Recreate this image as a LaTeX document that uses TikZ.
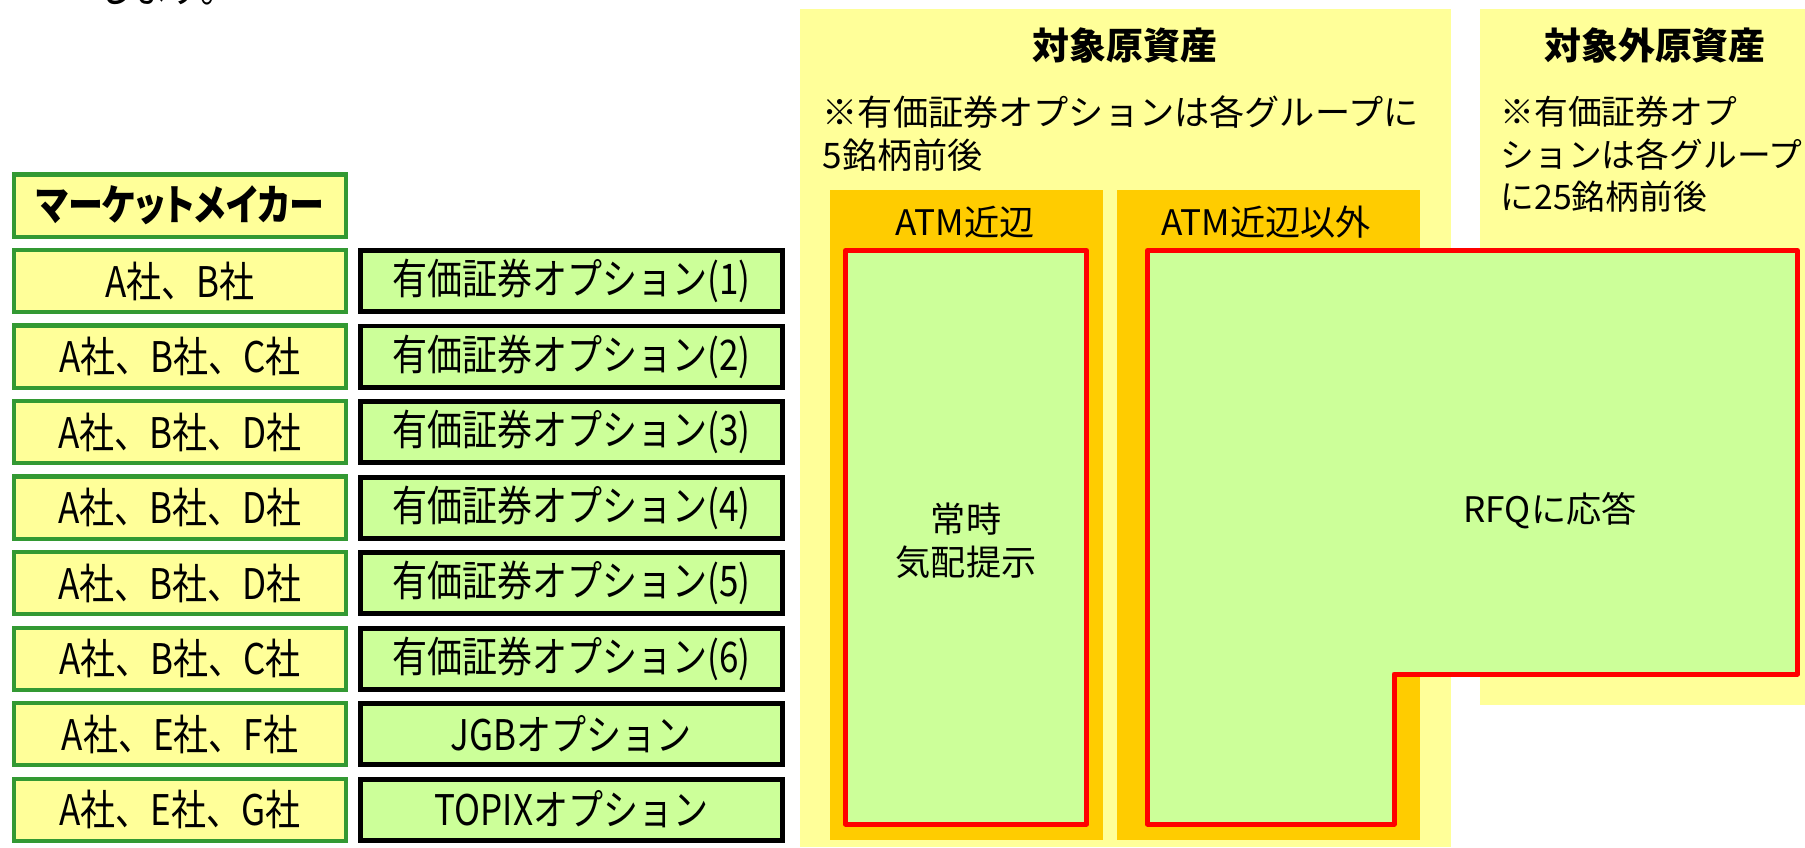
\documentclass[tikz,border=0pt]{standalone}
\usepackage{fontspec}
\setmainfont{Noto Sans CJK JP}
\newfontfamily\narrowjp[FakeStretch=0.83]{Noto Sans CJK JP}
\newfontfamily\propjp[FakeStretch=0.83, RawFeature=+palt]{Noto Sans CJK JP}
\definecolor{paleyellow}{HTML}{FFFF99}
\definecolor{palegreen}{HTML}{CCFF99}
\definecolor{amber}{HTML}{FFCC00}
\definecolor{mmgreen}{HTML}{339933}

\begin{document}
\begin{tikzpicture}[x=0.01cm, y=-0.01cm,
	mmbox/.style={draw=mmgreen, line width=1.14pt, fill=paleyellow, minimum width=3.32cm, minimum height=0.62cm, inner sep=0pt, font=\narrowjp\fontsize{12}{14}\selectfont},
	optbox/.style={draw=black, line width=1.42pt, fill=palegreen, minimum width=4.22cm, minimum height=0.61cm, inner sep=0pt, font=\narrowjp\fontsize{12}{14}\selectfont},
	quotezone/.style={draw=red, line width=1.42pt, fill=palegreen, line join=round},
	lbl/.style={inner sep=0pt, font=\fontsize{10}{12.2}\selectfont}]
			\useasboundingbox (0, 0) rectangle (1805, 847);
			% end of the line above, cut by the frame
			\node[inner sep=0pt, anchor=base, font=\narrowjp\fontsize{12}{14}\selectfont] (prevline) at (167, 2) {します。};
			
			\fill[paleyellow] (800, 9) rectangle (1451, 847);
			\fill[paleyellow] (1480, 9) rectangle (1805, 705);
			\fill[amber] (830, 190) rectangle (1103, 840);
			\fill[amber] (1117, 190) rectangle (1420, 840);
			\draw[quotezone] (845.5, 250.5) rectangle (1086.5, 824);
			\draw[quotezone] (1147.5, 250.5) -- (1797.5, 250.5) -- (1797.5, 674) -- (1394, 674) -- (1394, 824) -- (1147.5, 824) -- cycle;
			
			\node[lbl, font=\bfseries\fontsize{10.5}{12}\selectfont] (target) at (1125, 45) {対象原資産};
			\node[lbl, font=\bfseries\fontsize{10.5}{12}\selectfont] (nontarget) at (1655, 45) {対象外原資産};
			\node[lbl, anchor=north west, align=left] (targetnote) at (822, 95) {※有価証券オプションは各グループに\\5銘柄前後};
			\node[lbl, anchor=north west, align=left, font=\fontsize{9.6}{12.2}\selectfont] (nontargetnote) at (1500, 95) {※有価証券オプ\\ションは各グループ\\に25銘柄前後};
			\node[lbl] (atm) at (965, 222) {ATM近辺};
			\node[lbl] (otm) at (1266, 222) {ATM近辺以外};
			\node[lbl, align=center] (quoting) at (966, 541) {常時\\気配提示};
			\node[lbl] (rfq) at (1550, 511) {RFQに応答};
			
			\node[mmbox, font=\propjp\bfseries\fontsize{12}{14}\selectfont] (mmhead) at (180, 205.5) {マーケットメイカー};
			\foreach \firms/\product [count=\i] in {{A社、B社}/{有価証券オプション(1)}, {A社、B社、C社}/{有価証券オプション(2)}, {A社、B社、D社}/{有価証券オプション(3)}, {A社、B社、D社}/{有価証券オプション(4)}, {A社、B社、D社}/{有価証券オプション(5)}, {A社、B社、C社}/{有価証券オプション(6)}, {A社、E社、F社}/{JGBオプション}, {A社、E社、G社}/{TOPIXオプション}} {
				\node[mmbox] (mm\i) at (180, {281 + 75.5*(\i-1)}) {\firms};
				\node[optbox] (opt\i) at (571.5, {281 + 75.5*(\i-1)}) {\product};
			}
\end{tikzpicture}
\end{document}
